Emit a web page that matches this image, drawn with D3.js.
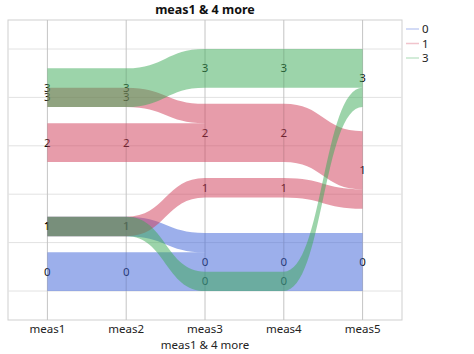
<!DOCTYPE html>
<html>
<head>
<meta charset="utf-8">
<script src="https://cdn.jsdelivr.net/npm/d3@7"></script>
<style>
  body { margin: 0; background: #fff; }
  text { font-family: "Noto Sans", "Open Sans", sans-serif; }
</style>
</head>
<body>
<div id="chart"></div>
<script>
// measures (axes) and one value per row for each measure
var measures = ["meas1", "meas2", "meas3", "meas4", "meas5"];
var meas1 = [3, 3, 1, 3, 2, 2, 1, 0, 0, 1];
var meas2 = [3, 3, 1, 3, 2, 2, 1, 0, 0, 1];
var meas3 = [3, 3, 0, 2, 2, 2, 1, 0, 0, 0];
var meas4 = [3, 3, 0, 2, 2, 2, 1, 0, 0, 0];
var meas5 = [3, 3, 3, 1, 1, 1, 1, 0, 0, 0];
// rows are coloured by their meas5 value
var groups = [0, 1, 3];
var groupColors = ["#3a60d8", "#d03a55", "#3aaa55"];
var chartTitle = "meas1 & 4 more";

var columns = [meas1, meas2, meas3, meas4, meas5];

var width = 474, height = 354;
var margin = {top: 20, right: 72, bottom: 34, left: 8};
var plotW = width - margin.left - margin.right,
  plotH = height - margin.top - margin.bottom;

var svg = d3.select("#chart")
  .append("svg")
  .attr("width", width)
  .attr("height", height);

var g = svg.append("g")
  .attr("transform", "translate(" + margin.left + "," + margin.top + ")");

// scales
var x = d3.scalePoint()
  .domain(measures)
  .range([0, plotW])
  .padding(0.5);

var y = d3.scaleLinear()
  .domain([0, 1])
  .range([plotH - 29, 29]);

var color = d3.scaleOrdinal()
  .domain(groups)
  .range(groupColors);

// frame + grid
g.append("rect")
  .attr("width", plotW)
  .attr("height", plotH)
  .attr("fill", "none")
  .attr("stroke", "#cfcfcf");

g.append("g")
  .selectAll("line")
  .data(y.ticks(5))
  .enter()
  .append("line")
  .attr("x1", 0)
  .attr("x2", plotW)
  .attr("y1", d => y(d))
  .attr("y2", d => y(d))
  .attr("stroke", "#e2e2e2");

g.append("g")
  .selectAll("line")
  .data(measures)
  .enter()
  .append("line")
  .attr("x1", d => x(d))
  .attr("x2", d => x(d))
  .attr("y1", 0)
  .attr("y2", plotH)
  .attr("stroke", "#c4c4c4");

// ---- layout ----
var rows = meas1.map((v, i) => ({
  id: i,
  vals: columns.map(c => c[i]),
  grp: meas5[i]
}));
var N = rows.length;
var unit = 0.8 / N;

// nodes: per axis, values top to bottom (highest first)
var nodes = columns.map(col => {
  var vals = Array.from(new Set(col)).sort((p, q) => q - p);
  var gap = vals.length > 1 ? (1 - N * unit) / (vals.length - 1) : 0;
  var pos = 1, out = {};
  vals.forEach(v => {
    var cnt = col.filter(d => d === v).length;
    out[v] = {value: v, top: pos, bottom: pos - cnt * unit, order: pos};
    pos -= cnt * unit + gap;
  });
  return out;
});

// links: grouped by (group, source value, target value)
var links = [];
for (var a = 0; a < measures.length - 1; a++) {
  var roll = d3.rollup(rows, v => v.length,
    d => d.grp, d => d.vals[a], d => d.vals[a + 1]);
  roll.forEach((m1, grp) => m1.forEach((m2, sv) => m2.forEach((cnt, tv) => {
    links.push({a: a, grp: grp, sv: sv, tv: tv, count: cnt});
  })));
}

// each group is stacked up from the bottom of its node, so groups overlap
measures.forEach((m, a) => {
  // outgoing side
  if (a < measures.length - 1) {
    var outs = d3.group(links.filter(l => l.a === a), l => l.grp, l => l.sv);
    outs.forEach(mm => mm.forEach((ls, v) => {
      var total = d3.sum(ls, l => l.count);
      var pos = nodes[a][v].bottom + total * unit;
      ls.sort((p, q) => nodes[a + 1][q.tv].order - nodes[a + 1][p.tv].order)
        .forEach(l => { l.s0 = pos; pos -= l.count * unit; l.s1 = pos; });
    }));
  }
  // incoming side
  if (a > 0) {
    var ins = d3.group(links.filter(l => l.a === a - 1), l => l.grp, l => l.tv);
    ins.forEach(mm => mm.forEach((ls, v) => {
      var total = d3.sum(ls, l => l.count);
      var pos = nodes[a][v].bottom + total * unit;
      ls.sort((p, q) => nodes[a - 1][q.sv].order - nodes[a - 1][p.sv].order)
        .forEach(l => { l.t0 = pos; pos -= l.count * unit; l.t1 = pos; });
    }));
  }
});

// value labels: one per group band on each axis (drawn under the bands)
var labels = [];
measures.forEach((m, a) => {
  var byNode = d3.rollup(rows, v => v.length, d => d.vals[a], d => d.grp);
  byNode.forEach((mm, v) => mm.forEach((cnt, grp) => {
    var b = nodes[a][v].bottom;
    labels.push({x: x(m), y: y(b + cnt * unit / 2), text: v});
  }));
});

g.append("g")
  .selectAll("text")
  .data(labels)
  .enter()
  .append("text")
  .attr("x", d => d.x)
  .attr("y", d => d.y)
  .attr("dy", "0.35em")
  .attr("text-anchor", "middle")
  .attr("font-size", "11.5px")
  .attr("fill", "#111")
  .text(d => d.text);

// bands
function bandPath(l) {
  var x0 = x(measures[l.a]), x1 = x(measures[l.a + 1]), xm = (x0 + x1) / 2;
  var a0 = y(l.s0), a1 = y(l.t0), b0 = y(l.s1), b1 = y(l.t1);
  return "M" + x0 + "," + a0 +
    "C" + xm + "," + a0 + " " + xm + "," + a1 + " " + x1 + "," + a1 +
    "L" + x1 + "," + b1 +
    "C" + xm + "," + b1 + " " + xm + "," + b0 + " " + x0 + "," + b0 + "Z";
}

g.append("g")
  .selectAll("path")
  .data(links.slice().sort((p, q) => groups.indexOf(p.grp) - groups.indexOf(q.grp)))
  .enter()
  .append("path")
  .attr("d", bandPath)
  .attr("fill", d => color(d.grp))
  .attr("fill-opacity", 0.5);

// x axis labels
g.append("g")
  .selectAll("text")
  .data(measures)
  .enter()
  .append("text")
  .attr("x", d => x(d))
  .attr("y", plotH + 13)
  .attr("text-anchor", "middle")
  .attr("font-size", "11.5px")
  .attr("fill", "#222")
  .text(d => d);

g.append("text")
  .attr("x", plotW / 2)
  .attr("y", plotH + 29)
  .attr("text-anchor", "middle")
  .attr("font-size", "11.5px")
  .attr("fill", "#222")
  .text(chartTitle);

// title
svg.append("text")
  .attr("x", margin.left + plotW / 2)
  .attr("y", 14)
  .attr("text-anchor", "middle")
  .attr("font-size", "12.5px")
  .attr("font-weight", "bold")
  .attr("fill", "#111")
  .text(chartTitle);

// legend
var legend = svg.append("g")
  .attr("transform", "translate(" + (margin.left + plotW + 4) + ",29)");
var item = legend.selectAll("g")
  .data(groups)
  .enter()
  .append("g")
  .attr("transform", (d, i) => "translate(0," + (i * 14.5) + ")");
item.append("line")
  .attr("x1", 0).attr("x2", 13)
  .attr("stroke", d => color(d))
  .attr("stroke-opacity", 0.3)
  .attr("stroke-width", 1.5);
item.append("text")
  .attr("x", 16)
  .attr("dy", "0.35em")
  .attr("font-size", "11.5px")
  .attr("fill", "#222")
  .text(d => d);
</script>
</body>
</html>
